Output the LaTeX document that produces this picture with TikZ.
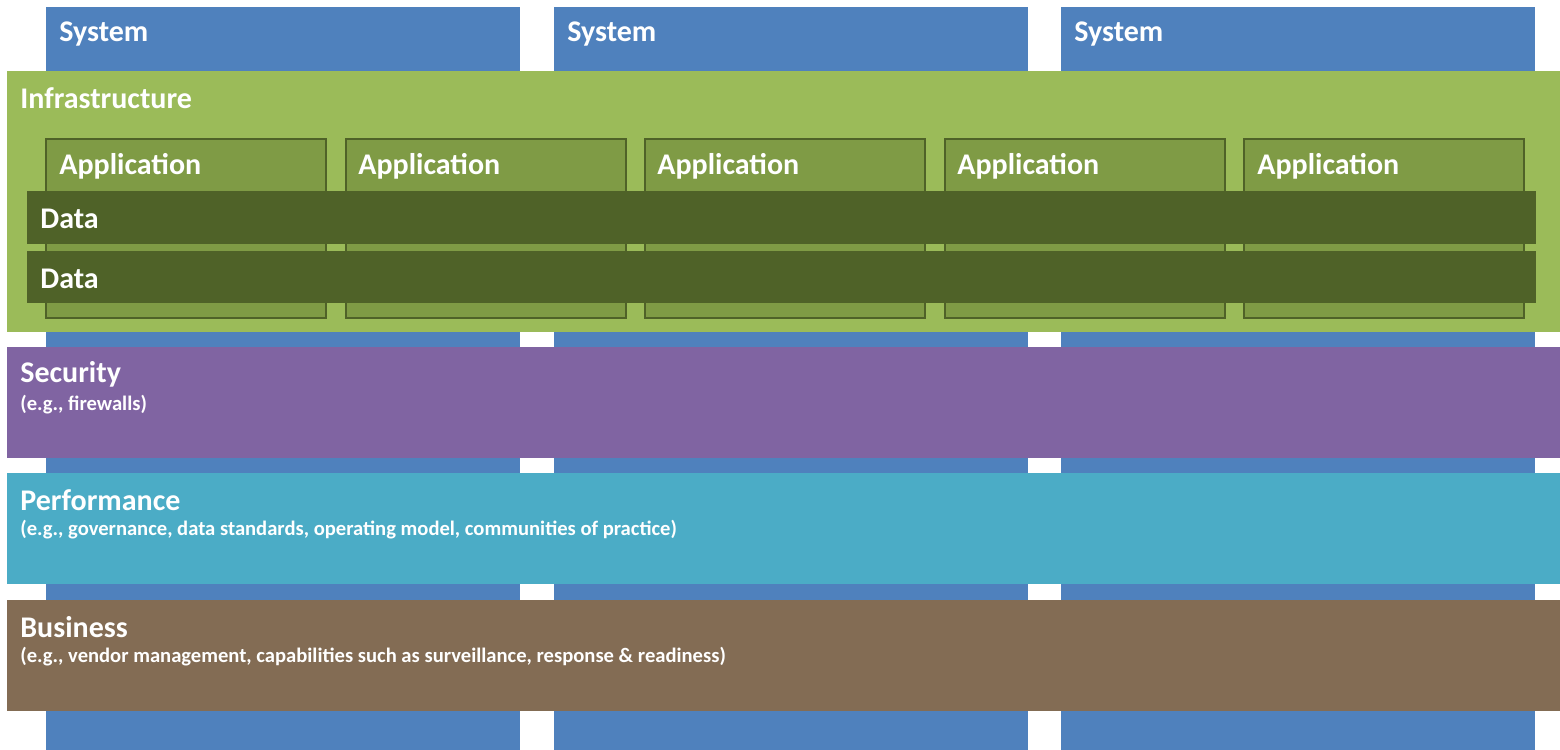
\documentclass[tikz,border=0pt]{standalone}
\usepackage{fontspec}
\setmainfont{Carlito}
\definecolor{sysblue}{HTML}{4F81BD}
\definecolor{infragreen}{HTML}{9BBB59}
\definecolor{appgreen}{HTML}{7F9B45}
\definecolor{datagreen}{HTML}{4F6228}
\definecolor{secpurple}{HTML}{8064A2}
\definecolor{perfaqua}{HTML}{4BACC6}
\definecolor{busbrown}{HTML}{836C54}
\tikzset{
  title/.style={anchor=west, text=white, font=\bfseries\fontsize{15}{18}\selectfont, inner sep=0pt},
  note/.style={anchor=west, text=white, font=\bfseries\fontsize{10.3}{12}\selectfont, inner sep=0pt},
  appbox/.style={fill=appgreen, draw=datagreen, line width=0.8pt}
}
\begin{document}
\begin{tikzpicture}[x=0.5pt, y=-0.5pt]
	\useasboundingbox (0,0) rectangle (1560,750);

	% system columns
	\fill [sysblue] (46,7) rectangle (520,750);
	\fill [sysblue] (554,7) rectangle (1028,750);
	\fill [sysblue] (1061,7) rectangle (1535,750);
	\node [title] (sys1) at (59,34) {System};
	\node [title] (sys2) at (567,34) {System};
	\node [title] (sys3) at (1074,34) {System};

	% infrastructure
	\fill [infragreen] (7,71) rectangle (1560,332);
	\node [title] (infra) at (20,98) {Infrastructure};

	\draw [appbox] (46,139) rectangle (326,318);
	\draw [appbox] (346,139) rectangle (626,318);
	\draw [appbox] (645,139) rectangle (925,318);
	\draw [appbox] (945,139) rectangle (1225,318);
	\draw [appbox] (1244,139) rectangle (1524,318);
	\node [title] (app1) at (59,166) {Application};
	\node [title] (app2) at (358,166) {Application};
	\node [title] (app3) at (657,166) {Application};
	\node [title] (app4) at (957,166) {Application};
	\node [title] (app5) at (1257,166) {Application};

	\fill [datagreen] (27,191) rectangle (1536,244);
	\fill [datagreen] (27,251) rectangle (1536,303);
	\node [title] (data1) at (40,219) {Data};
	\node [title] (data2) at (40,279) {Data};

	% cross-cutting layers
	\fill [secpurple] (7,347) rectangle (1560,458);
	\node [title] (sec) at (20,374) {Security};
	\node [note] (secnote) at (20,405) {(e.g., firewalls)};

	\fill [perfaqua] (7,473) rectangle (1560,584);
	\node [title] (perf) at (20,500) {Performance};
	\node [note] (perfnote) at (20,530) {(e.g., governance, data standards, operating model, communities of practice)};

	\fill [busbrown] (7,600) rectangle (1560,711);
	\node [title] (bus) at (20,627) {Business};
	\node [note] (busnote) at (20,657) {(e.g., vendor management, capabilities such as surveillance, response \& readiness)};
\end{tikzpicture}
\end{document}
